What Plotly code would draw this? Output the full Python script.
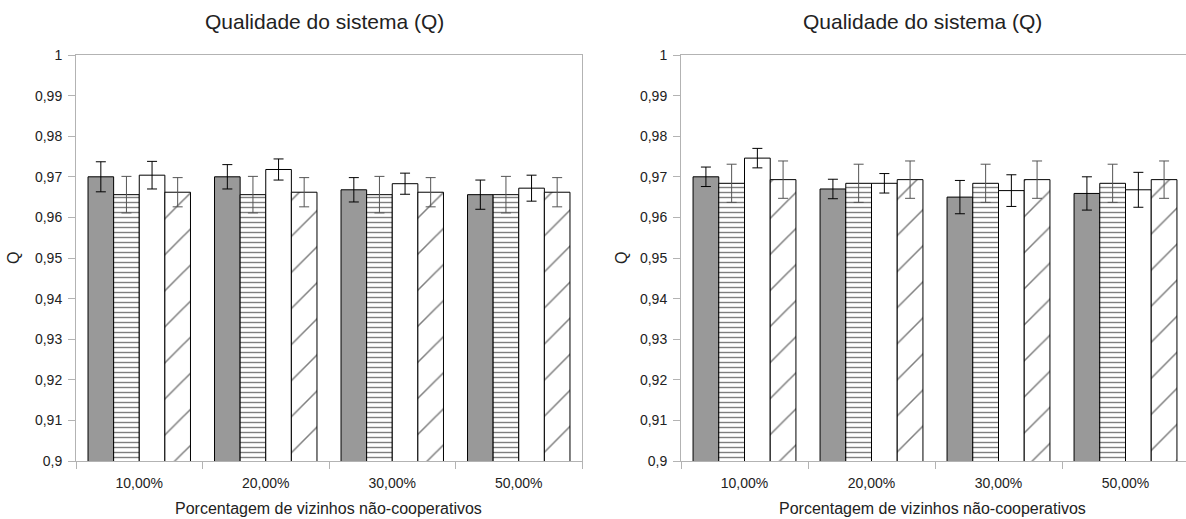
import plotly.graph_objects as go

W, H = 1186, 519

categories = ["10,00%", "20,00%", "30,00%", "50,00%"]

# Left chart values and error half-widths
left_gray = [0.9700, 0.9700, 0.9668, 0.9656]
left_gray_err = [0.0037, 0.0030, 0.0030, 0.0036]
left_stripe = [0.9656, 0.9656, 0.9656, 0.9656]
left_stripe_err = [0.0045, 0.0045, 0.0045, 0.0045]
left_white = [0.9704, 0.9718, 0.9683, 0.9672]
left_white_err = [0.0034, 0.0026, 0.0026, 0.0032]
left_diag = [0.9662, 0.9662, 0.9662, 0.9662]
left_diag_err = [0.0036, 0.0036, 0.0036, 0.0036]

# Right chart values and error half-widths
right_gray = [0.9700, 0.9670, 0.9650, 0.9659]
right_gray_err = [0.0024, 0.0024, 0.0041, 0.0041]
right_stripe = [0.9684, 0.9684, 0.9684, 0.9684]
right_stripe_err = [0.0047, 0.0047, 0.0047, 0.0047]
right_white = [0.9746, 0.9684, 0.9666, 0.9668]
right_white_err = [0.0024, 0.0024, 0.0039, 0.0043]
right_diag = [0.9693, 0.9693, 0.9693, 0.9693]
right_diag_err = [0.0046, 0.0046, 0.0046, 0.0046]

y_tickvals = [0.9, 0.91, 0.92, 0.93, 0.94, 0.95, 0.96, 0.97, 0.98, 0.99, 1.0]
y_ticktext = ["0,9", "0,91", "0,92", "0,93", "0,94", "0,95", "0,96", "0,97", "0,98", "0,99", "1"]

chart_title = "Qualidade do sistema (Q)"
x_title = "Porcentagem de vizinhos não-cooperativos"
y_title = "Q"

FONT = "Liberation Sans, Arial, sans-serif"
AXIS_COLOR = "#b3b3b3"
TEXT_COLOR = "#222222"

fig = go.Figure()


def add_series(xa, ya, vals, errs, kind):
    marker = dict(line=dict(color="#000000", width=1))
    err_color = "#000000"
    if kind == "gray":
        marker["color"] = "#999999"
    elif kind == "white":
        marker["color"] = "#ffffff"
    elif kind == "stripe":
        marker["color"] = "#ffffff"
        marker["pattern"] = dict(shape="-", size=5, solidity=0.28,
                                 fgcolor="#000000", bgcolor="#ffffff")
        err_color = "#555555"
    elif kind == "diag":
        marker["color"] = "#ffffff"
        marker["pattern"] = dict(shape="/", size=25.5, solidity=0.06,
                                 fgcolor="#000000", bgcolor="#ffffff")
        err_color = "#555555"
    fig.add_trace(go.Bar(
        x=categories, y=vals, xaxis=xa, yaxis=ya, marker=marker,
        error_y=dict(type="data", array=errs, visible=True,
                     color=err_color, thickness=1, width=5),
        showlegend=False, hoverinfo="skip",
    ))


for vals, errs, kind in [(left_gray, left_gray_err, "gray"),
                         (left_stripe, left_stripe_err, "stripe"),
                         (left_white, left_white_err, "white"),
                         (left_diag, left_diag_err, "diag")]:
    add_series("x", "y", vals, errs, kind)

for vals, errs, kind in [(right_gray, right_gray_err, "gray"),
                         (right_stripe, right_stripe_err, "stripe"),
                         (right_white, right_white_err, "white"),
                         (right_diag, right_diag_err, "diag")]:
    add_series("x2", "y2", vals, errs, kind)

y_top = 1 - 55 / H
y_bot = 1 - 461 / H

xaxis_common = dict(
    type="category", showline=True, linecolor=AXIS_COLOR, linewidth=1,
    ticks="outside", ticklen=7, tickcolor=AXIS_COLOR, tickson="boundaries",
    showgrid=False, zeroline=False, mirror=True,
    tickfont=dict(family=FONT, size=14, color=TEXT_COLOR),
    ticklabelstandoff=9,
    fixedrange=True,
)
yaxis_common = dict(
    range=[0.9, 1.0], tickvals=y_tickvals, ticktext=y_ticktext,
    showline=True, linecolor=AXIS_COLOR, linewidth=1,
    ticks="outside", ticklen=7, tickcolor=AXIS_COLOR,
    showgrid=False, zeroline=False,
    tickfont=dict(family=FONT, size=14, color=TEXT_COLOR),
    ticklabelstandoff=3,
    fixedrange=True,
)

fig.update_layout(
    autosize=True,
    margin=dict(l=0, r=0, t=0, b=0, autoexpand=False),
    paper_bgcolor="#ffffff", plot_bgcolor="#ffffff",
    barmode="group", bargap=0.19, bargroupgap=0,
    xaxis=dict(domain=[76 / W, 582 / W], range=[-0.5, 3.5], anchor="y", **xaxis_common),
    yaxis=dict(domain=[y_bot, y_top], anchor="x", mirror=True, **yaxis_common),
    xaxis2=dict(domain=[681 / W, 1.0], range=[-0.5, -0.5 + 505 / 127], anchor="y2", **xaxis_common),
    yaxis2=dict(domain=[y_bot, y_top], anchor="x2", mirror=False, **yaxis_common),
)

ann = []
for cx_title, cx_xt, cx_yt in [(324, 328, 13), (922, 932, 621)]:
    ann.append(dict(text=chart_title, x=cx_title / W, y=1 - 22 / H, xref="paper", yref="paper",
                    xanchor="center", yanchor="middle", showarrow=False,
                    font=dict(family=FONT, size=21, color=TEXT_COLOR)))
    ann.append(dict(text=x_title, x=cx_xt / W, y=1 - 508 / H, xref="paper", yref="paper",
                    xanchor="center", yanchor="middle", showarrow=False,
                    font=dict(family=FONT, size=16, color=TEXT_COLOR)))
    ann.append(dict(text=y_title, x=cx_yt / W, y=1 - 258 / H, xref="paper", yref="paper",
                    xanchor="center", yanchor="middle", showarrow=False, textangle=-90,
                    font=dict(family=FONT, size=16, color=TEXT_COLOR)))
fig.update_layout(annotations=ann)

fig.write_html("out.html", config={"displayModeBar": False, "responsive": True},
               default_width="100%", default_height="100%")
